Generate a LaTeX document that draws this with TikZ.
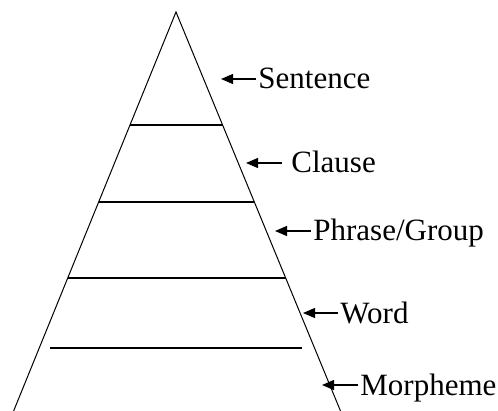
\documentclass[tikz,border=0pt]{standalone}
\usepackage{fontspec}
\setmainfont{Liberation Serif}
\usetikzlibrary{arrows.meta, calc}

\begin{document}
\begin{tikzpicture}[
    x=0.5pt, y=-0.5pt,
    edge/.style={line width=0.5pt},
    level/.style={line width=1pt},
    label/.style={anchor=west, inner xsep=1pt, inner ysep=0pt, text height=10pt, text depth=0pt, font=\fontsize{15.5}{18}\selectfont},
    arrow/.style={{Triangle[length=6pt, width=5pt]}-, line width=0.6pt}
]
\useasboundingbox (0,0) rectangle (498,411);

% pyramid outline (open at the base)
\coordinate (apex) at (176,12);
\coordinate (baseL) at (13.6,411);
\coordinate (baseR) at (340.5,411);
\draw[edge] (baseL) -- (apex) -- (baseR);

% level lines
\foreach \t in {0.284, 0.475, 0.666}
  \draw[level] ($(apex)!\t!(baseL)$) -- ($(apex)!\t!(baseR)$);
\coordinate (lowL) at (50,348);
\coordinate (lowR) at (302,348);
\draw[level] (lowL) -- (lowR);

% labels
\node[label] (sentence) at (256,79) {Sentence};
\node[label] (clause) at (289,163) {Clause};
\node[label] (phrase) at (311,231) {Phrase/Group};
\node[label] (word) at (338,313) {Word};
\node[label] (morpheme) at (358,385) {Morpheme};

\coordinate (sentenceTip) at (221,79);
\coordinate (clauseTip) at (246,163);
\coordinate (phraseTip) at (275,231);
\coordinate (wordTip) at (303,313);
\coordinate (morphemeTip) at (322,385);

\draw[arrow] (sentenceTip) -- (sentence.west);
\draw[arrow, shorten >=3.5pt] (clauseTip) -- (clause.west);
\draw[arrow] (phraseTip) -- (phrase.west);
\draw[arrow] (wordTip) -- (word.west);
\draw[arrow] (morphemeTip) -- (morpheme.west);
\end{tikzpicture}
\end{document}
